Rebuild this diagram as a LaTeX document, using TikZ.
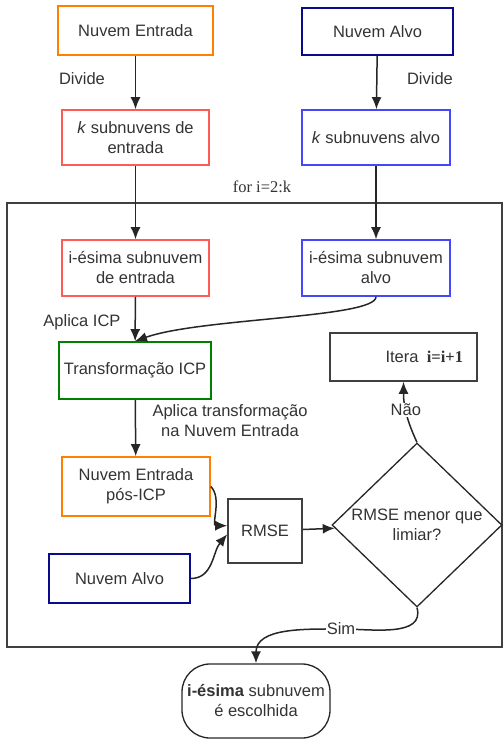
\documentclass[tikz,border=0pt]{standalone}
\usepackage{fontspec}
\setmainfont{Liberation Sans}
\newfontfamily\seriffont{Liberation Serif}
\usetikzlibrary{shapes.geometric,arrows.meta}

\definecolor{cOrange}{RGB}{255,128,0}
\definecolor{cNavy}{RGB}{10,10,140}
\definecolor{cRed}{RGB}{255,90,90}
\definecolor{cBlue}{RGB}{70,70,255}
\definecolor{cGreen}{RGB}{0,128,0}

\tikzset{
  box/.style={draw, line width=1.6pt, text=black!80, align=center, inner sep=2pt},
  lbl/.style={text=black!80, align=center, inner sep=1pt},
  seta/.style={-{Latex[length=12pt,width=10pt]}, line width=1.5pt, draw=black!85}
}

\begin{document}
\begin{tikzpicture}[x=1pt,y=-1pt,font=\fontsize{16.5}{20}\selectfont]

\useasboundingbox (0,0) rectangle (503,743);

\node[box,draw=cOrange,minimum width=155,minimum height=49] (E0) at (135.5,30.5) {Nuvem Entrada};
\node[box,draw=cNavy,minimum width=151,minimum height=47] (A0) at (377.5,31.5) {Nuvem Alvo};

\node[box,draw=cRed,minimum width=147,minimum height=55] (E1) at (135.5,137.5) {\textit{k} subnuvens de\\entrada};
\node[box,draw=cBlue,minimum width=148,minimum height=55] (A1) at (376,137.5) {\textit{k} subnuvens alvo};

\node[lbl] (V0) at (82,79) {Divide};
\node[lbl] (V1) at (430,79) {Divide};
\node[lbl] (L0) at (262,187) {\seriffont for i=2:k};

\draw[line width=1.4pt,draw=black!75] (7,203) rectangle (502,647);

\node[box,draw=cRed,minimum width=147,minimum height=56] (E2) at (135.5,268) {i-ésima subnuvem\\de entrada};
\node[box,draw=cBlue,minimum width=148,minimum height=56] (A2) at (376,268) {i-ésima subnuvem\\alvo};

\node[lbl] (P0) at (82,322) {Aplica ICP};

\node[box,draw=cGreen,minimum width=152,minimum height=57] (T) at (135,370.5) {Transformação ICP};
\node[box,draw=black!75,minimum height=48,text width=119,inner xsep=14,align=right] (I) at (403.5,357) {Itera\enspace{\seriffont\bfseries i=i+1}};

\node[lbl] (P1) at (230,421) {Aplica transformação\\na Nuvem Entrada};

\node[box,draw=cOrange,minimum width=148,minimum height=59] (E3) at (136,486.5) {Nuvem Entrada\\pós-ICP};
\node[box,draw=cNavy,minimum width=141,minimum height=49] (A3) at (119.5,578.5) {Nuvem Alvo};

\node[box,draw=black!75,minimum width=74,minimum height=64] (R) at (265,531) {RMSE};
\node[draw,line width=1.3pt,draw=black!85,text=black!80,diamond,aspect=1,inner sep=0pt,align=center,minimum width=170,minimum height=164] (D) at (417,525) {RMSE menor que\\limiar?};

\node[draw,line width=1.3pt,draw=black!85,text=black!80,rounded corners=28,align=center,inner sep=0pt,minimum width=148,minimum height=74] (F) at (256,701) {\textbf{i-ésima} subnuvem\\é escolhida};

\coordinate (S) at (341,629);

\draw[seta] (E0) -- (E1);
\draw[seta] (A0) -- (A1);
\draw[seta] (E1) -- (E2);
\draw[seta] (A1) -- (A2);
\draw[seta] (E2) -- (T);
\draw[seta] (A2.south) .. controls (376,318) and (200,318) .. (T.north);
\draw[seta] (T) -- (E3);
\draw[seta] (E3.east) to[out=-45,in=180] (R.172);
\draw[seta] (A3.east) to[out=0,in=-130] (R.185);
\draw[seta] (R) -- (D);
\draw[seta] (D.north) to[out=115,in=-90] node[lbl,fill=white,pos=0.55] {Não} (I.south);
\draw[seta] (D.south) to[out=-75,in=0] (S) to[out=180,in=90] (F.north);
\node[lbl,fill=white] (M) at (S) {Sim};

\end{tikzpicture}
\end{document}
